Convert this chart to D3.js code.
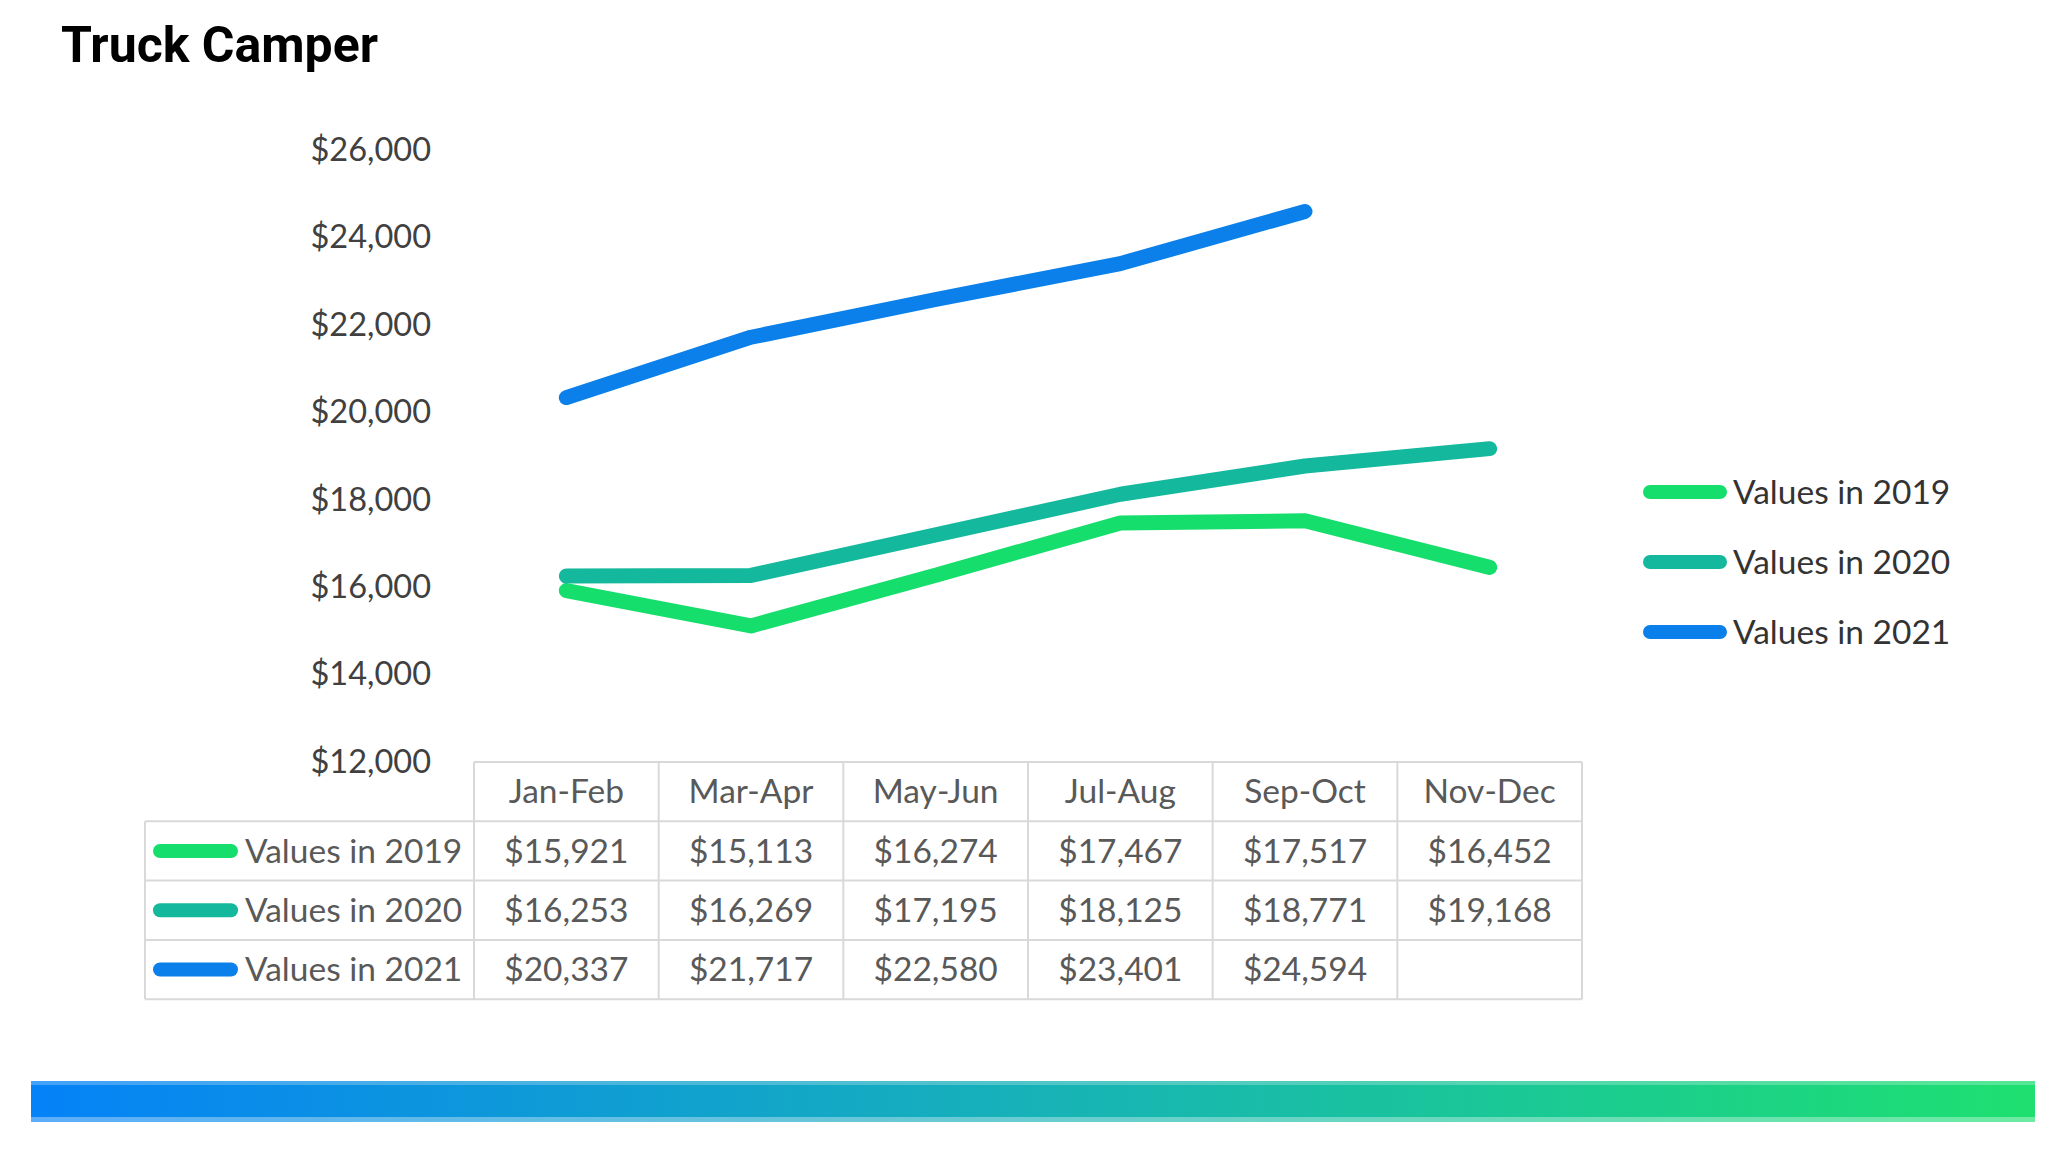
<!DOCTYPE html>
<html>
<head>
<meta charset="utf-8">
<script src="https://cdn.jsdelivr.net/npm/d3@7"></script>
<style>
  body { margin: 0; background: #fff; }
  text { font-family: Lato, "Open Sans", sans-serif; }
</style>
</head>
<body>
<div id="chart"></div>
<script>
// chart values
let periods = ["Jan-Feb", "Mar-Apr", "May-Jun", "Jul-Aug", "Sep-Oct", "Nov-Dec"];
let seriesNames = ["Values in 2019", "Values in 2020", "Values in 2021"];
let values2019 = [15921, 15113, 16274, 17467, 17517, 16452];
let values2020 = [16253, 16269, 17195, 18125, 18771, 19168];
let values2021 = [20337, 21717, 22580, 23401, 24594, null];
let yTicks = [12000, 14000, 16000, 18000, 20000, 22000, 24000, 26000];

let seriesColors = ["#16de6c", "#14b89c", "#0b80ea"];
let allSeries = [values2019, values2020, values2021];

let svgWidth = 2055;
let svgHeight = 1152;

let svg = d3.select("#chart")
    .append("svg")
    .attr("width", svgWidth)
    .attr("height", svgHeight);

svg.append("rect")
    .attr("width", svgWidth)
    .attr("height", svgHeight)
    .attr("fill", "#fff");

// title
svg.append("text")
    .attr("x", 61)
    .attr("y", 62)
    .style("font-family", "Roboto, sans-serif")
    .attr("font-weight", "bold")
    .attr("font-size", 50)
    .attr("fill", "#000")
    .text("Truck Camper");

// scales
let xScale = d3.scaleBand()
    .domain(periods)
    .range([474, 1582]);

let yScale = d3.scaleLinear()
    .domain([12000, 26000])
    .range([762, 150]);

let fmt = d => "$" + d3.format(",")(d);

// y axis: labels only
let yAxis = d3.axisLeft(yScale)
    .tickValues(yTicks)
    .tickFormat(fmt)
    .tickSize(0)
    .tickPadding(0);

let yG = svg.append("g")
    .attr("transform", "translate(431, 0)")
    .call(yAxis);
yG.select(".domain").remove();
yG.selectAll("text")
    .attr("font-size", 32.5)
    .attr("fill", "#404040")
    .style("font-family", "Lato, sans-serif");

// lines
let line = d3.line()
    .defined(d => d != null)
    .x((d, i) => xScale(periods[i]) + xScale.bandwidth() / 2)
    .y(d => yScale(d));

svg.selectAll(".series")
    .data(allSeries)
    .enter()
    .append("path")
    .attr("class", "series")
    .attr("d", line)
    .attr("fill", "none")
    .attr("stroke", (d, i) => seriesColors[i])
    .attr("stroke-width", 15)
    .attr("stroke-linecap", "round")
    .attr("stroke-linejoin", "round");

// legend on the right
let legend = svg.selectAll(".legend")
    .data(seriesNames)
    .enter()
    .append("g")
    .attr("class", "legend")
    .attr("transform", (d, i) => `translate(1643, ${492 + i * 70})`);

legend.append("line")
    .attr("x1", 7).attr("x2", 77)
    .attr("stroke", (d, i) => seriesColors[i])
    .attr("stroke-width", 14)
    .attr("stroke-linecap", "round");

legend.append("text")
    .attr("x", 90)
    .attr("dy", "0.35em")
    .attr("font-size", 33.5)
    .attr("fill", "#333")
    .text(d => d);

// data table
let tableTop = 762;
let rowH = 59.3;
let tableLeft = 145;
let tableRight = xScale.range()[1];
let grid = "#d9d9d9";

let table = svg.append("g");

// header row frame (only above the value columns)
table.append("line")
    .attr("x1", xScale.range()[0]).attr("x2", tableRight)
    .attr("y1", tableTop).attr("y2", tableTop);

// horizontal rules
table.selectAll(".hrule")
    .data(d3.range(1, seriesNames.length + 2))
    .enter()
    .append("line")
    .attr("class", "hrule")
    .attr("x1", tableLeft).attr("x2", tableRight)
    .attr("y1", d => tableTop + d * rowH)
    .attr("y2", d => tableTop + d * rowH);

// vertical rules
let colEdges = periods.map(p => xScale(p)).concat([xScale.range()[1]]);
table.selectAll(".vrule")
    .data(colEdges)
    .enter()
    .append("line")
    .attr("class", "vrule")
    .attr("x1", d => d).attr("x2", d => d)
    .attr("y1", tableTop)
    .attr("y2", tableTop + (seriesNames.length + 1) * rowH);

table.append("line")
    .attr("x1", tableLeft).attr("x2", tableLeft)
    .attr("y1", tableTop + rowH)
    .attr("y2", tableTop + (seriesNames.length + 1) * rowH);

table.selectAll("line")
    .attr("stroke", grid)
    .attr("stroke-width", 2);

// header labels
table.selectAll(".head")
    .data(periods)
    .enter()
    .append("text")
    .attr("class", "head")
    .attr("x", d => xScale(d) + xScale.bandwidth() / 2)
    .attr("y", tableTop + rowH / 2)
    .attr("dy", "0.35em")
    .attr("text-anchor", "middle")
    .attr("font-size", 33.5)
    .attr("fill", "#595959")
    .text(d => d);

// rows
let rows = table.selectAll(".row")
    .data(allSeries)
    .enter()
    .append("g")
    .attr("class", "row")
    .attr("transform", (d, i) => `translate(0, ${tableTop + (i + 1.5) * rowH})`);

rows.append("line")
    .attr("x1", 160).attr("x2", 231)
    .attr("stroke", (d, i) => seriesColors[i])
    .attr("stroke-width", 14)
    .attr("stroke-linecap", "round");

rows.append("text")
    .attr("x", 245)
    .attr("dy", "0.35em")
    .attr("font-size", 33.5)
    .attr("fill", "#595959")
    .text((d, i) => seriesNames[i]);

rows.selectAll(".cell")
    .data(d => d)
    .enter()
    .append("text")
    .attr("class", "cell")
    .attr("x", (d, i) => xScale(periods[i]) + xScale.bandwidth() / 2)
    .attr("dy", "0.35em")
    .attr("text-anchor", "middle")
    .attr("font-size", 33.5)
    .attr("fill", "#595959")
    .text(d => d == null ? "" : fmt(d));

// gradient footer bar
let defs = svg.append("defs");
let grad = defs.append("linearGradient")
    .attr("id", "footer")
    .attr("x1", "0%").attr("x2", "100%");
grad.append("stop").attr("offset", "0%").attr("stop-color", "#0582f7");
grad.append("stop").attr("offset", "50%").attr("stop-color", "#17b2b8");
grad.append("stop").attr("offset", "100%").attr("stop-color", "#1ee070");

svg.append("rect")
    .attr("x", 31).attr("y", 1081)
    .attr("width", 2004).attr("height", 41)
    .attr("fill", "url(#footer)");

svg.append("rect")
    .attr("x", 31).attr("y", 1081)
    .attr("width", 2004).attr("height", 4)
    .attr("fill", "#fff").attr("opacity", 0.25);

svg.append("rect")
    .attr("x", 31).attr("y", 1117)
    .attr("width", 2004).attr("height", 5)
    .attr("fill", "#fff").attr("opacity", 0.35);
</script>
</body>
</html>
